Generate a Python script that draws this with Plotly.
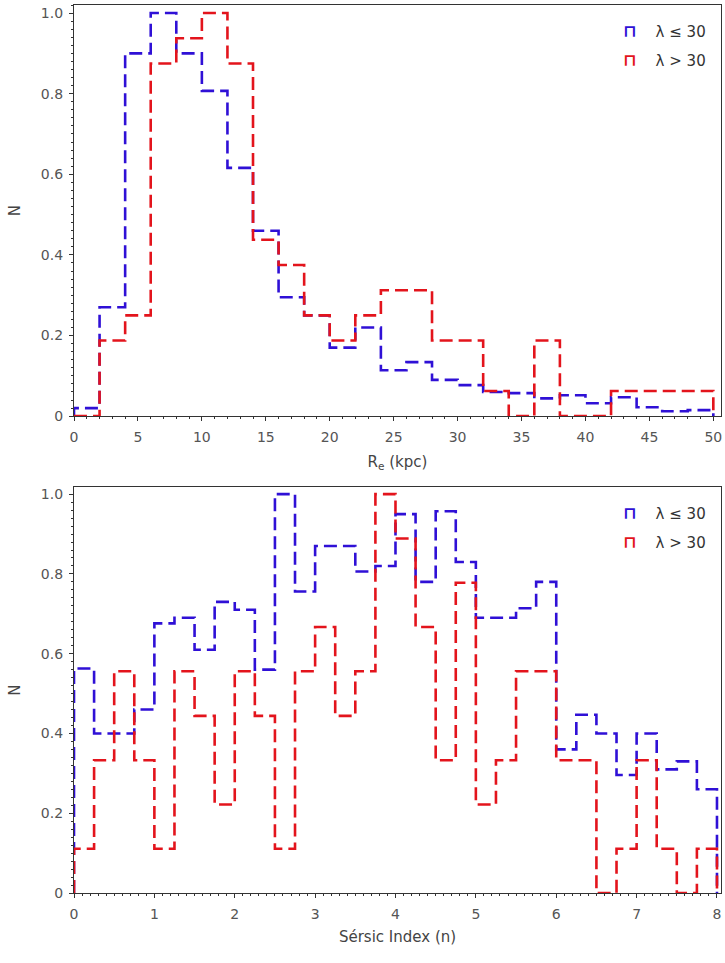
import numpy as np
import plotly.graph_objects as go
from plotly.subplots import make_subplots

# ---------------- data ----------------
re_edges = np.arange(0, 52, 2)  # R_e bin edges (kpc)
re_low = [0.02, 0.27, 0.90, 1.00, 0.90, 0.807, 0.616, 0.46, 0.295, 0.25,
          0.17, 0.22, 0.114, 0.134, 0.09, 0.077, 0.06, 0.057, 0.044, 0.052,
          0.032, 0.047, 0.022, 0.012, 0.015]
re_high = [0.0, 0.1875, 0.25, 0.875, 0.9375, 1.0, 0.875, 0.4375, 0.375, 0.25,
           0.1875, 0.25, 0.3125, 0.3125, 0.1875, 0.1875, 0.0625, 0.0, 0.1875, 0.0,
           0.0, 0.0625, 0.0625, 0.0625, 0.0625]

n_edges = np.arange(0, 8.25, 0.25)  # Sersic index bin edges
n_low = [0.563, 0.40, 0.40, 0.46, 0.676, 0.69, 0.61, 0.73, 0.71, 0.56,
         1.00, 0.756, 0.87, 0.87, 0.806, 0.82, 0.95, 0.78, 0.957, 0.83,
         0.69, 0.69, 0.714, 0.78, 0.36, 0.447, 0.40, 0.296, 0.40, 0.31,
         0.33, 0.26]
n_high = [0.111, 0.333, 0.556, 0.333, 0.111, 0.556, 0.444, 0.222, 0.556, 0.444,
          0.111, 0.556, 0.667, 0.444, 0.556, 1.0, 0.889, 0.667, 0.333, 0.778,
          0.222, 0.333, 0.556, 0.556, 0.333, 0.333, 0.0, 0.111, 0.333, 0.111,
          0.0, 0.111]

labels = ["λ ≤ 30", "λ > 30"]
BLUE = "#2f10d6"
RED = "#e3141c"


def step_xy(edges, vals):
    edges = list(edges)
    vals = list(vals)
    x = [edges[0]] + edges[:-1] + [edges[-1], edges[-1]]
    y = [0] + vals + [vals[-1], 0]
    return x, y


fig = make_subplots(rows=2, cols=1, vertical_spacing=0.08)

for row, edges, series in [(1, re_edges, [re_low, re_high]),
                           (2, n_edges, [n_low, n_high])]:
    for vals, col, name in zip(series, [BLUE, RED], labels):
        x, y = step_xy(edges, vals)
        fig.add_trace(go.Scatter(x=x, y=y, mode="lines", line_shape="hv",
                                 line=dict(color=col, width=2.6, dash="13px,6px"),
                                 name=name, showlegend=False,
                                 hoverinfo="skip"), row=row, col=1)

axis_common = dict(showline=True, linecolor="#333", linewidth=1.3, mirror=True,
                   showgrid=False, zeroline=False, ticks="outside", ticklen=4,
                   tickcolor="#333", tickfont=dict(family="DejaVu Sans", size=14, color="#555"))

fig.update_xaxes(**axis_common, ticklabelstandoff=4)
fig.update_yaxes(**axis_common, ticklabelstandoff=3)

title_font = dict(family="DejaVu Sans", size=15, color="#444")
fig.update_layout(
    xaxis=dict(domain=[0, 1], range=[0, 50.6], tickvals=list(range(0, 55, 5)),
               minor=dict(dtick=1, ticklen=2, ticks="outside", tickcolor="#333"),
               title=dict(text="R<sub>e</sub> (kpc)", standoff=12, font=title_font)),
    yaxis=dict(domain=[0.537, 1.0], range=[0, 1.02],
               tickvals=[0, 0.2, 0.4, 0.6, 0.8, 1.0], ticktext=["0", "0.2", "0.4", "0.6", "0.8", "1.0"],
               minor=dict(dtick=0.02, ticklen=2, ticks="outside", tickcolor="#333"),
               title=dict(text="N", standoff=16, font=title_font)),
    xaxis2=dict(domain=[0, 1], range=[0, 8.05], tickvals=list(range(0, 9)),
                minor=dict(dtick=0.1, ticklen=2, ticks="outside", tickcolor="#333"),
                title=dict(text="Sérsic Index (n)", standoff=10, font=title_font)),
    yaxis2=dict(domain=[0, 0.457], range=[0, 1.0175],
                tickvals=[0, 0.2, 0.4, 0.6, 0.8, 1.0], ticktext=["0", "0.2", "0.4", "0.6", "0.8", "1.0"],
                minor=dict(dtick=0.02, ticklen=2, ticks="outside", tickcolor="#333"),
                title=dict(text="N", standoff=16, font=title_font)),
    width=725, height=963,
    margin=dict(l=74, r=4, t=5, b=70),
    plot_bgcolor="white", paper_bgcolor="white",
    showlegend=False,
)

# legend-like labels
for xr, yr, ys in [("x domain", "y domain", [0.937, 0.866]),
                   ("x2 domain", "y2 domain", [0.936, 0.865])]:
    for lab, col, yy in zip(labels, [BLUE, RED], ys):
        fig.add_annotation(xref=xr, yref=yr, x=0.98, y=yy, xanchor="right", yanchor="middle",
                           showarrow=False,
                           text=f"<span style='color:{col};font-size:17px'><b>⊓</b></span>    {lab}",
                           font=dict(family="DejaVu Sans", size=15, color="#333"))

fig.write_html("out.html", config={"displayModeBar": False},
               post_script="document.body.style.margin='0';document.body.style.overflow='hidden';")
